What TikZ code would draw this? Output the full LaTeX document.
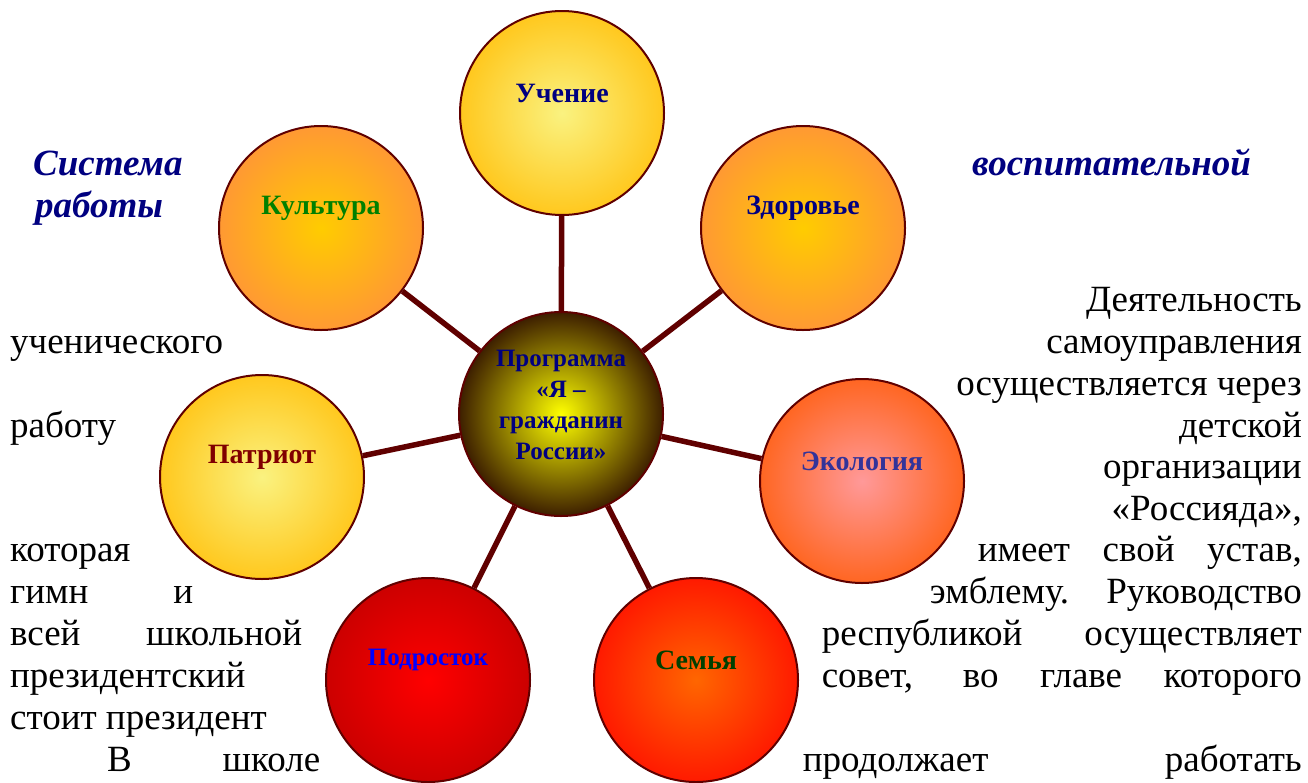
\documentclass[tikz,border=0pt]{standalone}
\usepackage{fontspec}
\setmainfont{Liberation Serif}
\usepackage{tikz}
\definecolor{bordo}{RGB}{96,0,0}
\definecolor{navytext}{RGB}{0,0,128}
\definecolor{greentext}{RGB}{0,128,0}
\definecolor{slatetext}{RGB}{51,51,153}
\definecolor{maroontext}{RGB}{128,0,0}
\definecolor{bluetext}{RGB}{0,0,255}
\definecolor{darkgreentext}{RGB}{0,64,0}
\definecolor{paleyellow}{RGB}{250,242,128}
\definecolor{gold}{RGB}{255,200,30}
\definecolor{amber}{RGB}{255,204,0}
\definecolor{lightorange}{RGB}{255,153,51}
\definecolor{pinkish}{RGB}{255,153,153}
\definecolor{redorange}{RGB}{255,102,34}
\definecolor{darkred}{RGB}{204,0,0}
\definecolor{hotorange}{RGB}{255,102,0}
\definecolor{scarlet}{RGB}{255,26,0}
\definecolor{darkbrown}{RGB}{61,31,0}

\begin{document}
\begin{tikzpicture}[x=1pt, y=-1pt,
	sphere/.style={circle, draw=bordo, line width=2pt, minimum size=204pt, inner sep=0pt},
	lbl/.style={font=\fontsize{28}{31}\selectfont\bfseries, align=center, yshift=#1},
	lbl/.default=20pt,
	smalllbl/.style={font=\fontsize{25}{31}\selectfont\bfseries},
	txt/.style={font=\fontsize{37}{42}\selectfont, inner sep=0pt},
	heading/.style={font=\fontsize{37}{42}\selectfont\bfseries\itshape, text=navytext, inner sep=0pt},
	link/.style={draw=bordo, line width=5.5pt}]
	\useasboundingbox (0,0) rectangle (1308,782);

	\node[heading, anchor=base west] (sys1) at (33,175) {Система};
	\node[heading, anchor=base west] (sys2) at (35,217) {работы};
	\node[heading, anchor=base west] (sys3) at (972,175) {воспитательной};

	\node[txt, anchor=base east] (t1) at (1302,311) {Деятельность};
	\node[txt, anchor=base west] (t2) at (10,353) {ученического};
	\node[txt, anchor=base east] (t3) at (1302,353) {самоуправления};
	\node[txt, anchor=base east] (t4) at (1302,395) {осуществляется через};
	\node[txt, anchor=base west] (t5) at (10,437) {работу};
	\node[txt, anchor=base east] (t6) at (1302,437) {детской};
	\node[txt, anchor=base east] (t7) at (1302,478) {организации};
	\node[txt, anchor=base east] (t8) at (1302,520) {«Россияда»,};
	\node[txt, anchor=base west] (t9) at (10,561) {которая};
	\node[txt, anchor=base east] (t10) at (1302,561) {\makebox[324pt][s]{имеет свой устав,}};
	\node[txt, anchor=base west] (t11) at (10,603) {\makebox[183pt][s]{гимн и}};
	\node[txt, anchor=base east] (t12) at (1302,603) {\makebox[372pt][s]{эмблему. Руководство}};
	\node[txt, anchor=base west] (t13) at (10,645) {\makebox[292pt][s]{всей школьной}};
	\node[txt, anchor=base east] (t14) at (1302,645) {\makebox[480pt][s]{республикой осуществляет}};
	\node[txt, anchor=base west] (t15) at (10,687) {президентский};
	\node[txt, anchor=base east] (t16) at (1302,687) {\makebox[480pt][s]{совет, во главе которого}};
	\node[txt, anchor=base west] (t17) at (10,729) {стоит президент};
	\node[txt, anchor=base west] (t18) at (107,771) {\makebox[213pt][s]{В школе}};
	\node[txt, anchor=base east] (t19) at (1302,771) {\makebox[499pt][s]{продолжает работать}};

	\node[sphere, inner color=yellow, outer color=darkbrown,
		label={[lbl=9pt, smalllbl, text=navytext]center:Программа\\«Я –\\гражданин\\России»}] (prog) at (561,414) {};
	\node[sphere, inner color=paleyellow, outer color=gold,
		label={[lbl, text=navytext]center:Учение}] (uchenie) at (562,113) {};
	\node[sphere, inner color=amber, outer color=lightorange,
		label={[lbl, text=greentext]center:Культура}] (kultura) at (321,228) {};
	\node[sphere, inner color=amber, outer color=lightorange,
		label={[lbl, text=navytext]center:Здоровье}] (zdorove) at (803,228) {};
	\node[sphere, inner color=pinkish, outer color=redorange,
		label={[lbl, text=slatetext]center:Экология}] (ekologiya) at (862,481) {};
	\node[sphere, inner color=paleyellow, outer color=gold,
		label={[lbl, text=maroontext]center:Патриот}] (patriot) at (262,477) {};
	\node[sphere, inner color=red, outer color=darkred,
		label={[lbl, smalllbl, text=bluetext]center:Подросток}] (podrostok) at (428,680) {};
	\node[sphere, inner color=hotorange, outer color=scarlet,
		label={[lbl, text=darkgreentext]center:Семья}] (semya) at (696,680) {};

	\foreach \n in {uchenie,kultura,zdorove,ekologiya,patriot,podrostok,semya}
		\draw[link] (prog) -- (\n);
\end{tikzpicture}
\end{document}
